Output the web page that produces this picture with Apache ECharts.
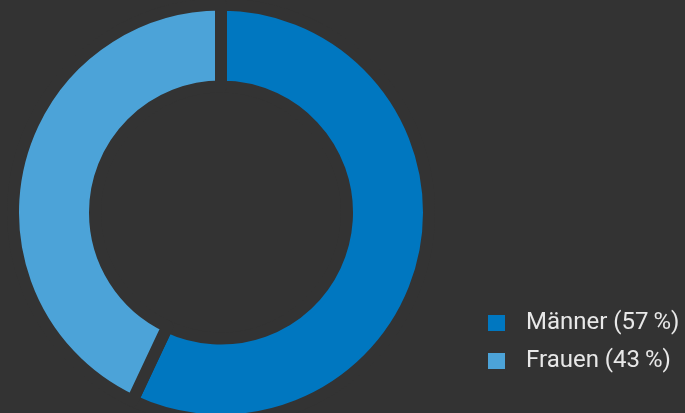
<!DOCTYPE html>
<html>
<head>
<meta charset="utf-8">
<script src="https://cdn.jsdelivr.net/npm/echarts@6/dist/echarts.min.js"></script>
<style>
  html, body { margin: 0; padding: 0; background: #333333; }
  #chart { width: 685px; height: 413px; }
</style>
</head>
<body>
<div id="chart"></div>
<script>
// Gender split shown as a donut
const categories = ['Männer', 'Frauen'];
const shares = [57, 43];
const colors = ['#0077c0', '#4ca3d8'];

const bg = '#333333';
const chart = echarts.init(document.getElementById('chart'), null, { renderer: 'canvas' });

const data = categories.map((name, i) => ({
  name: name,
  value: shares[i],
  itemStyle: { color: colors[i] }
}));

chart.setOption({
  backgroundColor: bg,
  animation: false,
  legend: {
    orient: 'vertical',
    left: 481,
    top: 306,
    itemWidth: 19,
    itemHeight: 18,
    itemGap: 14,
    icon: 'rect',
    selectedMode: false,
    data: categories,
    formatter: function (name) {
      const i = categories.indexOf(name);
      return name + ' (' + shares[i] + '\u2009%)';
    },
    textStyle: {
      color: '#e8e8e8',
      fontFamily: 'Roboto',
      fontSize: 24,
      lineHeight: 24,
      padding: [0, 0, 0, 15]
    }
  },
  series: [{
    type: 'pie',
    center: [221, 212.5],
    radius: [126, 208],
    startAngle: 90,
    clockwise: true,
    silent: true,
    label: { show: false },
    labelLine: { show: false },
    itemStyle: { borderColor: bg, borderWidth: 12 },
    data: data
  }]
});
</script>
</body>
</html>
